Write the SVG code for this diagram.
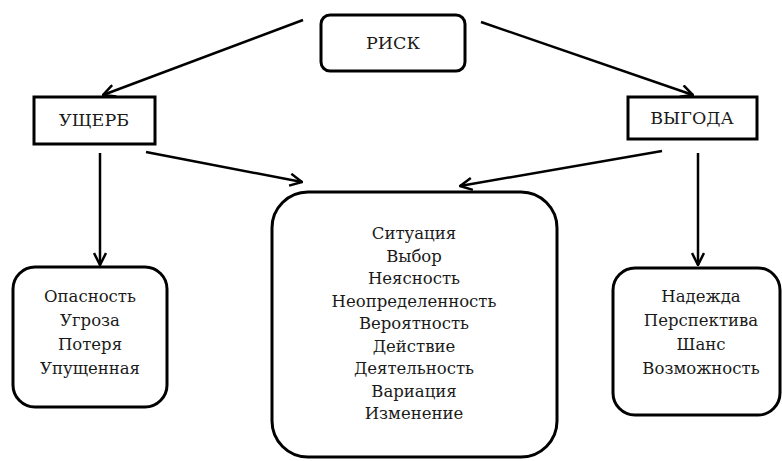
<svg xmlns="http://www.w3.org/2000/svg" width="782" height="461" viewBox="0 0 782 461">
<defs>
<style>
.box{fill:#fff;stroke:#000;stroke-width:3}
text{font-family:"DejaVu Serif",serif;font-size:16.5px;fill:#1a1a1a;text-anchor:middle}
.h{font-size:17.5px}
.c{fill:none;stroke:#000;stroke-width:2.5}
</style>
<marker id="ah" viewBox="0 0 14 14" refX="13" refY="7" markerWidth="14" markerHeight="14" markerUnits="userSpaceOnUse" orient="auto">
<path d="M1,1 L13,7 L1,13" fill="none" stroke="#000" stroke-width="2.5"/>
</marker>
</defs>
<rect width="782" height="461" fill="#fff"/>
<g id="connectors">
<line class="c" x1="303" y1="20" x2="103" y2="95" marker-end="url(#ah)"/>
<line class="c" x1="481" y1="22" x2="693" y2="95" marker-end="url(#ah)"/>
<line class="c" x1="146" y1="152" x2="302" y2="182" marker-end="url(#ah)"/>
<line class="c" x1="662" y1="151" x2="460" y2="186" marker-end="url(#ah)"/>
<line class="c" x1="100" y1="153" x2="100" y2="265" marker-end="url(#ah)"/>
<line class="c" x1="698" y1="153" x2="698" y2="265" marker-end="url(#ah)"/>
</g>
<g id="risk">
<rect class="box" x="321" y="15" width="144" height="56" rx="9"/>
<text class="h" x="393" y="49">РИСК</text>
</g>
<g id="damage">
<rect class="box" x="34" y="97" width="121" height="47"/>
<text class="h" x="94" y="126">УЩЕРБ</text>
</g>
<g id="benefit">
<rect class="box" x="628" y="97" width="129" height="42"/>
<text class="h" x="692" y="124">ВЫГОДА</text>
</g>
<g id="left-list">
<rect class="box" x="13" y="267" width="154" height="140" rx="22"/>
<text x="90" y="302">Опасность</text>
<text x="90" y="326">Угроза</text>
<text x="90" y="350">Потеря</text>
<text x="90" y="374">Упущенная</text>
</g>
<g id="center-list">
<rect class="box" x="272" y="192" width="285" height="265" rx="36"/>
<text x="414" y="239">Ситуация</text>
<text x="414" y="261.5">Выбор</text>
<text x="414" y="284">Неясность</text>
<text x="414" y="306.5">Неопределенность</text>
<text x="414" y="329">Вероятность</text>
<text x="414" y="351.5">Действие</text>
<text x="414" y="374">Деятельность</text>
<text x="414" y="396.5">Вариация</text>
<text x="414" y="419">Изменение</text>
</g>
<g id="right-list">
<rect class="box" x="613" y="268" width="167" height="147" rx="22"/>
<text x="701" y="302">Надежда</text>
<text x="701" y="326">Перспектива</text>
<text x="701" y="350">Шанс</text>
<text x="701" y="374">Возможность</text>
</g>
</svg>
